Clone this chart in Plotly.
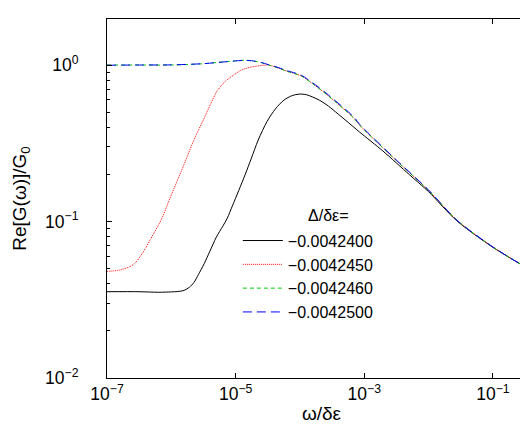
import plotly.graph_objects as go

# ---------------- data ----------------
labels = ["\u22120.0042400", "\u22120.0042450", "\u22120.0042460", "\u22120.0042500"]

x_black = [1e-7, 3.16e-7, 6.31e-7, 1e-6, 1.26e-6, 1.58e-6, 1.91e-6, 2.24e-6, 2.63e-6,
           3.24e-6, 3.98e-6, 5.01e-6, 6.31e-6, 7.41e-6, 8.91e-6, 1.12e-5, 1.41e-5,
           1.74e-5, 2.24e-5, 3.09e-5, 4.17e-5, 5.62e-5, 7.59e-5, 9.77e-5, 1.26e-4,
           1.58e-4, 2.0e-4, 2.63e-4, 5.01e-4, 8.51e-4, 1.95e-3, 5.01e-3, 1e-2,
           2.75e-2, 1e-1, 0.316, 0.467]
y_black = [0.0356, 0.0356, 0.0353, 0.0355, 0.0357, 0.0363, 0.038, 0.0407, 0.0457,
           0.0537, 0.0646, 0.0794, 0.0933, 0.105, 0.126, 0.158, 0.2,
           0.251, 0.331, 0.437, 0.525, 0.596, 0.638, 0.652, 0.646,
           0.624, 0.596, 0.555, 0.447, 0.372, 0.282, 0.1995, 0.155,
           0.101, 0.0684, 0.0513, 0.0462]

x_red = [1e-7, 1.58e-7, 2.24e-7, 2.75e-7, 3.39e-7, 3.98e-7, 4.79e-7, 6.92e-7, 1e-6,
         1.58e-6, 2.24e-6, 3.24e-6, 4.07e-6, 5.13e-6, 7.08e-6, 9.33e-6, 1.26e-5,
         1.74e-5, 2.51e-5, 3.09e-5, 3.98e-5, 6.31e-5, 1.05e-4, 1.58e-4, 2.63e-4,
         6.92e-4, 8.51e-4, 3.16e-3, 1e-2, 2.75e-2, 1e-1, 0.316, 0.467]
y_red = [0.0479, 0.049, 0.0513, 0.0543, 0.061, 0.0676, 0.0776, 0.102, 0.148,
         0.232, 0.331, 0.457, 0.562, 0.681, 0.794, 0.863, 0.933,
         0.97, 0.993, 1.0, 0.977, 0.912, 0.851, 0.759, 0.646,
         0.457, 0.412, 0.245, 0.158, 0.102, 0.0687, 0.0513, 0.0468]

x_green = [1e-7, 3.16e-7, 1e-6, 3.16e-6, 6.31e-6, 1e-5, 1.35e-5, 1.78e-5, 2.51e-5,
           3.16e-5, 3.98e-5, 6.31e-5, 1.05e-4, 1.58e-4, 2.63e-4, 6.92e-4, 8.51e-4,
           3.16e-3, 1e-2, 2.75e-2, 1e-1, 0.316, 0.467]
y_green = [1.0, 1.0, 1.0, 1.019, 1.047, 1.064, 1.072, 1.064, 1.035,
           1.005, 0.977, 0.912, 0.851, 0.759, 0.646, 0.457, 0.412,
           0.245, 0.158, 0.102, 0.0687, 0.0513, 0.0468]

x_blue = [1e-7, 3.16e-7, 1e-6, 3.16e-6, 6.31e-6, 1e-5, 1.35e-5, 1.78e-5, 2.51e-5,
          3.16e-5, 3.98e-5, 6.31e-5, 1.05e-4, 1.58e-4, 2.63e-4, 6.92e-4, 8.51e-4,
          3.16e-3, 1e-2, 2.75e-2, 1e-1, 0.316, 0.467]
y_blue = [0.997, 1.0, 1.002, 1.02, 1.045, 1.062, 1.07, 1.065, 1.038,
          1.008, 0.982, 0.92, 0.86, 0.768, 0.655, 0.464, 0.417,
          0.247, 0.159, 0.102, 0.0687, 0.0513, 0.0468]

x_tickvals = [1e-7, 1e-5, 1e-3, 1e-1]
x_ticktext = ["10<sup>\u22127</sup>", "10<sup>\u22125</sup>", "10<sup>\u22123</sup>", "10<sup>\u22121</sup>"]
y_tickvals = [1e-2, 1e-1, 1.0]
y_ticktext = ["10<sup>\u22122</sup>", "10<sup>\u22121</sup>", "10<sup>0</sup>"]
y_minor = [0.02, 0.03, 0.04, 0.05, 0.06, 0.07, 0.08, 0.09,
           0.2, 0.3, 0.4, 0.5, 0.6, 0.7, 0.8, 0.9]

legend_title = "\u0394/\u03b4\u03b5="

# ---------------- figure ----------------
FONT = "Arial, Liberation Sans, sans-serif"

fig = go.Figure()
fig.add_trace(go.Scatter(x=x_black, y=y_black, mode="lines", name=labels[0],
                         line=dict(color="black", width=1, shape="spline", smoothing=0.8)))
fig.add_trace(go.Scatter(x=x_red, y=y_red, mode="lines", name=labels[1],
                         line=dict(color="#ff0000", width=1, dash="1px,1px", shape="spline", smoothing=0.8)))
fig.add_trace(go.Scatter(x=x_green, y=y_green, mode="lines", name=labels[2],
                         line=dict(color="#00cc00", width=1, dash="4px,3px", shape="spline", smoothing=0.8)))
fig.add_trace(go.Scatter(x=x_blue, y=y_blue, mode="lines", name=labels[3],
                         line=dict(color="#0000ff", width=1, dash="9px,5px", shape="spline", smoothing=0.8)))

fig.update_layout(
    width=528, height=424,
    margin=dict(l=99, r=0, t=11, b=54),
    paper_bgcolor="white", plot_bgcolor="white",
    font=dict(family=FONT, color="black", size=17),
    showlegend=True,
    legend=dict(x=0.305, y=0.43, xanchor="left", yanchor="top",
                bgcolor="rgba(0,0,0,0)", font=dict(size=16, family=FONT),
                itemwidth=40, tracegroupgap=0),
    annotations=[dict(text=legend_title, xref="paper", yref="paper",
                      x=0.517, y=0.452, xanchor="center", yanchor="middle",
                      showarrow=False, font=dict(size=16, family=FONT))],
)

fig.update_xaxes(
    type="log", range=[-7, -0.33],
    tickvals=x_tickvals, ticktext=x_ticktext,
    ticks="inside", ticklen=5, tickcolor="black",
    showline=True, linecolor="black", linewidth=1, mirror="allticks",
    showgrid=False, zeroline=False,
    tickfont=dict(size=17.5, family=FONT),
    title=dict(text="\u03c9/\u03b4\u03b5", font=dict(size=19, family=FONT), standoff=3),
)
fig.update_yaxes(
    type="log", range=[-2, 0.294],
    tickvals=y_tickvals, ticktext=y_ticktext,
    ticks="inside", ticklen=5, tickcolor="black",
    minor=dict(tickvals=y_minor, ticks="inside", ticklen=3, tickcolor="black", showgrid=False),
    showline=True, linecolor="black", linewidth=1, mirror="ticks",
    showgrid=False, zeroline=False,
    tickfont=dict(size=17.5, family=FONT),
    ticklabelstandoff=24,
    title=dict(text="Re[G(\u03c9)]/G<sub>0</sub>", font=dict(size=19, family=FONT), standoff=13),
)

fig.write_html("out.html")
